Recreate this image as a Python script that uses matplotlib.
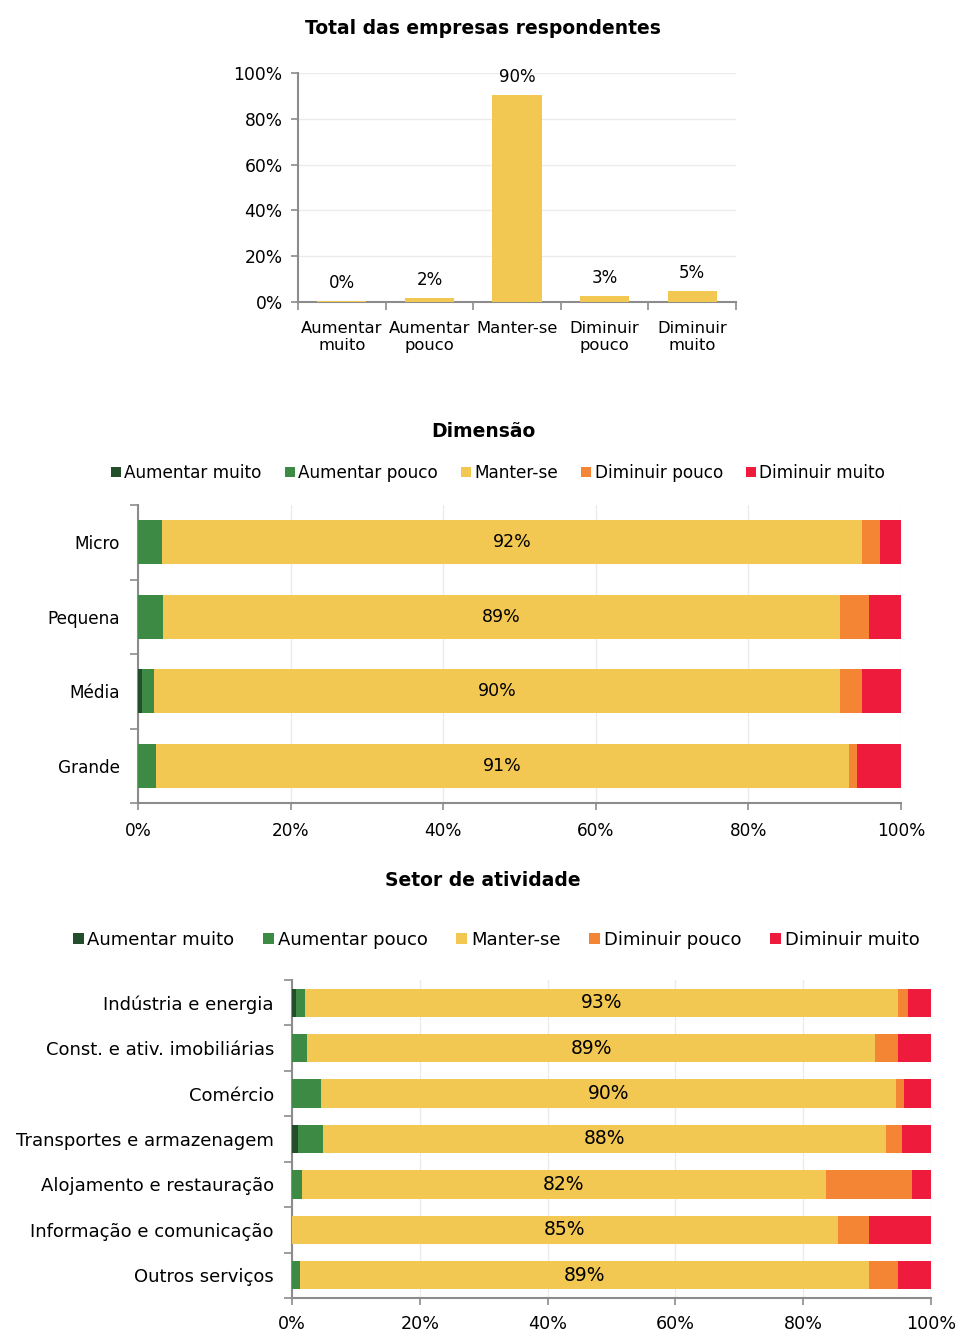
import matplotlib
matplotlib.use("Agg")
import matplotlib.pyplot as plt
from matplotlib.patches import Patch
import numpy as np

plt.rcParams['font.family'] = ['DejaVu Sans']

# ---- data ----
answers = ["Aumentar muito", "Aumentar pouco", "Manter-se", "Diminuir pouco", "Diminuir muito"]
answer_ticks = ["Aumentar\nmuito", "Aumentar\npouco", "Manter-se", "Diminuir\npouco", "Diminuir\nmuito"]
total_vals = [0.3, 1.9, 90.4, 2.8, 4.6]

size_cats = ["Micro", "Pequena", "Média", "Grande"]
size_aum_muito = [0.0, 0.0, 0.5, 0.0]
size_aum_pouco = [3.1, 3.3, 1.6, 2.4]
size_manter = [91.8, 88.7, 89.9, 90.8]
size_dim_pouco = [2.3, 3.8, 2.9, 1.0]
size_dim_muito = [2.8, 4.2, 5.1, 5.8]

sector_cats = ["Indústria e energia", "Const. e ativ. imobiliárias", "Comércio",
               "Transportes e armazenagem", "Alojamento e restauração",
               "Informação e comunicação", "Outros serviços"]
sec_aum_muito = [0.6, 0.0, 0.0, 0.9, 0.0, 0.0, 0.0]
sec_aum_pouco = [1.5, 2.4, 4.5, 4.0, 1.5, 0.0, 1.2]
sec_manter = [92.7, 88.8, 90.0, 88.1, 82.1, 85.4, 89.1]
sec_dim_pouco = [1.6, 3.6, 1.3, 2.5, 13.4, 4.9, 4.5]
sec_dim_muito = [3.6, 5.2, 4.2, 4.5, 3.0, 9.7, 5.2]

colors = ["#244d2c", "#3d8a45", "#f2c752", "#f38535", "#ee1b3c"]
spine_col = "#8c8c8c"
grid_col = "#ebebeb"

W, H = 959, 1335
fig = plt.figure(figsize=(W / 100, H / 100), dpi=100)


def ax_px(left, top, right, bottom):
    return fig.add_axes([left / W, 1 - bottom / H, (right - left) / W, (bottom - top) / H])


# ---- chart 1: total ----
fig.text(483 / W, 1 - 28 / H, "Total das empresas respondentes", ha="center", va="center",
         fontsize=13.5, fontweight="bold")
ax1 = ax_px(298, 73, 736, 302)
x = np.arange(len(total_vals))
ax1.bar(x, total_vals, width=0.56, color=colors[2], zorder=3)
for xi, v in zip(x, total_vals):
    ax1.annotate(f"{round(v):.0f}%", (xi, v), xytext=(0, 13), textcoords="offset points",
                 ha="center", va="center", fontsize=12)
ax1.set_xlim(-0.5, len(total_vals) - 0.5)
ax1.set_ylim(0, 100)
ax1.set_yticks(np.arange(0, 101, 20))
ax1.set_yticklabels([f"{v}%" for v in range(0, 101, 20)], fontsize=12.3)
ax1.set_xticks(x)
ax1.set_xticklabels(answer_ticks, fontsize=11.8, linespacing=1.15)
ax1.set_xticks(np.arange(-0.5, len(total_vals), 1), minor=True)
ax1.tick_params(axis="x", which="major", length=0, pad=14)
ax1.tick_params(axis="x", which="minor", length=6, color=spine_col, width=1.2)
ax1.tick_params(axis="y", length=5, color=spine_col, width=1.2, pad=6)
ax1.grid(axis="y", color=grid_col, lw=1, zorder=0)
for s in ["top", "right"]:
    ax1.spines[s].set_visible(False)
for s in ["left", "bottom"]:
    ax1.spines[s].set_color(spine_col)
    ax1.spines[s].set_linewidth(1.5)


def stacked(ax, cats, series, height, fs_lab, fs_tick, fs_val, xpad):
    y = np.arange(len(cats))
    left = np.zeros(len(cats))
    for vals, c in zip(series, colors):
        vals = np.array(vals)
        ax.barh(y, vals, left=left, height=height, color=c, zorder=3)
        left = left + vals
    manter = np.array(series[2])
    start = np.array(series[0]) + np.array(series[1])
    for yi, st, m in zip(y, start, manter):
        ax.text(st + m / 2, yi, f"{round(m):.0f}%", ha="center", va="center", fontsize=fs_val, zorder=4)
    ax.set_xlim(0, 100)
    ax.set_ylim(len(cats) - 0.5, -0.5)
    ax.set_yticks(y)
    ax.set_yticklabels(cats, fontsize=fs_lab)
    ax.set_yticks(np.arange(-0.5, len(cats), 1), minor=True)
    ax.tick_params(axis="y", which="major", length=0, pad=13)
    ax.tick_params(axis="y", which="minor", length=6, color=spine_col, width=1.2)
    ax.set_xticks(np.arange(0, 101, 20))
    ax.set_xticklabels([f"{v}%" for v in range(0, 101, 20)], fontsize=fs_tick)
    ax.tick_params(axis="x", length=5, color=spine_col, width=1.2, pad=xpad)
    ax.grid(axis="x", color=grid_col, lw=1, zorder=0)
    for s in ["top", "right"]:
        ax.spines[s].set_visible(False)
    for s in ["left", "bottom"]:
        ax.spines[s].set_color(spine_col)
        ax.spines[s].set_linewidth(1.5)


def legend(cx, cy, fs, colsp):
    handles = [Patch(facecolor=c, edgecolor="none") for c in colors]
    fig.legend(handles, answers, loc="center", bbox_to_anchor=(cx / W, 1 - cy / H), ncol=5,
               frameon=False, fontsize=fs, handlelength=0.6, handleheight=0.6,
               handletextpad=0.2, columnspacing=colsp, borderaxespad=0)


# ---- chart 2: dimensão ----
fig.text(483 / W, 1 - 431 / H, "Dimensão", ha="center", va="center", fontsize=13.5, fontweight="bold")
legend(498, 473, 12.2, 1.35)
ax2 = ax_px(138, 505, 901, 803)
stacked(ax2, size_cats,
        [size_aum_muito, size_aum_pouco, size_manter, size_dim_pouco, size_dim_muito],
        0.59, 12.2, 12.2, 12.5, 9)

# ---- chart 3: setor ----
fig.text(483 / W, 1 - 881 / H, "Setor de atividade", ha="center", va="center", fontsize=13.5, fontweight="bold")
legend(496, 940, 13, 1.6)
ax3 = ax_px(292, 980, 931, 1298)
stacked(ax3, sector_cats,
        [sec_aum_muito, sec_aum_pouco, sec_manter, sec_dim_pouco, sec_dim_muito],
        0.62, 13, 12.6, 13.5, 7)

fig.savefig("out.png", dpi=100)
